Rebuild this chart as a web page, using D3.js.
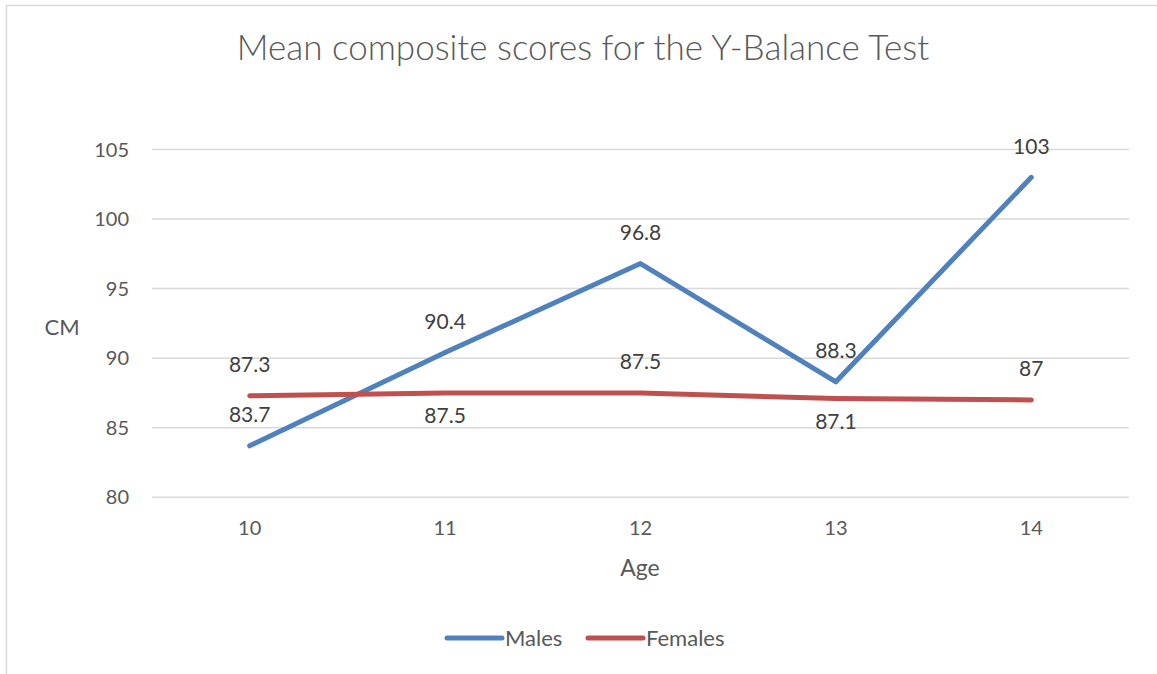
<!DOCTYPE html>
<html>
<head>
<meta charset="utf-8">
<script src="https://cdn.jsdelivr.net/npm/d3@7"></script>
<style>
  body { margin: 0; background: #fff; }
  text { font-family: Lato, "Open Sans", sans-serif; fill: #595959; }
</style>
</head>
<body>
<svg id="chart" width="1157" height="674"></svg>
<script>
// chart data
var ages = ["10", "11", "12", "13", "14"];
var males = [83.7, 90.4, 96.8, 88.3, 103];
var females = [87.3, 87.5, 87.5, 87.1, 87];
var yTicks = [80, 85, 90, 95, 100, 105];
var seriesNames = ["Males", "Females"];

// where each data label sits relative to its point
var malesLabelSide = ["up", "up", "up", "up", "up"];
var femalesLabelSide = ["up", "down", "up", "down", "up"];

var W = 1157, H = 674;
var plot = {left: 152, right: 1129, top: 149.5, bottom: 497.3};
var colors = {Males: "#4F81BD", Females: "#C0504D"};

var svg = d3.select("#chart");

// outer border
svg.append("rect")
  .attr("x", 6.5).attr("y", 5.5)
  .attr("width", W).attr("height", H)
  .attr("fill", "none")
  .attr("stroke", "#D9D9D9")
  .attr("stroke-width", 1.5);

var x = d3.scalePoint()
  .domain(ages)
  .range([plot.left, plot.right])
  .padding(0.5);

var y = d3.scaleLinear()
  .domain([80, 105])
  .range([plot.bottom, plot.top]);

/* gridlines */
svg.append("g")
  .selectAll("line")
  .data(yTicks)
  .join("line")
  .attr("x1", plot.left).attr("x2", plot.right)
  .attr("y1", d => y(d)).attr("y2", d => y(d))
  .attr("stroke", "#D9D9D9")
  .attr("stroke-width", 1.5);

// y axis labels
svg.append("g")
  .selectAll("text")
  .data(yTicks)
  .join("text")
  .attr("x", 129)
  .attr("y", d => y(d))
  .attr("dy", "0.35em")
  .attr("text-anchor", "end")
  .style("font-size", "20px")
  .text(d => d);

// x axis labels
svg.append("g")
  .selectAll("text")
  .data(ages)
  .join("text")
  .attr("x", d => x(d))
  .attr("y", 528)
  .attr("dy", "0.35em")
  .attr("text-anchor", "middle")
  .style("font-size", "20px")
  .text(d => d);

// titles
svg.append("text")
  .attr("x", 583).attr("y", 48)
  .attr("dy", "0.35em")
  .attr("text-anchor", "middle")
  .style("font-size", "35px")
  .style("font-weight", 300)
  .text("Mean composite scores for the Y-Balance Test");

svg.append("text")
  .attr("x", 640).attr("y", 568)
  .attr("dy", "0.35em")
  .attr("text-anchor", "middle")
  .style("font-size", "23px")
  .text("Age");

svg.append("text")
  .attr("x", 62).attr("y", 327)
  .attr("dy", "0.35em")
  .attr("text-anchor", "middle")
  .style("font-size", "22px")
  .text("CM");

// series
var series = [
  {name: "Males", values: males, side: malesLabelSide},
  {name: "Females", values: females, side: femalesLabelSide}
];

var line = d3.line()
  .x((d, i) => x(ages[i]))
  .y(d => y(d));

series.forEach(function (s) {
  svg.append("path")
    .datum(s.values)
    .attr("d", line)
    .attr("fill", "none")
    .attr("stroke", colors[s.name])
    .attr("stroke-width", 5)
    .attr("stroke-linecap", "round")
    .attr("stroke-linejoin", "round");
});

series.forEach(function (s) {
  svg.append("g")
    .selectAll("text")
    .data(s.values)
    .join("text")
    .attr("x", (d, i) => x(ages[i]))
    .attr("y", (d, i) => y(d) + (s.side[i] == "up" ? -31 : 23))
    .attr("dy", "0.35em")
    .attr("text-anchor", "middle")
    .style("font-size", "21px")
    .style("fill", "#404040")
    .text(d => d);
});

// legend
var legendX = [447, 588];
var lg = svg.append("g")
  .selectAll("g")
  .data(seriesNames)
  .join("g")
  .attr("transform", (d, i) => "translate(" + legendX[i] + ",638)");

lg.append("line")
  .attr("x1", 0).attr("x2", 55)
  .attr("stroke", d => colors[d])
  .attr("stroke-width", 5)
  .attr("stroke-linecap", "round");

lg.append("text")
  .attr("x", 58)
  .attr("dy", "0.35em")
  .style("font-size", "22px")
  .text(d => d);
</script>
</body>
</html>
